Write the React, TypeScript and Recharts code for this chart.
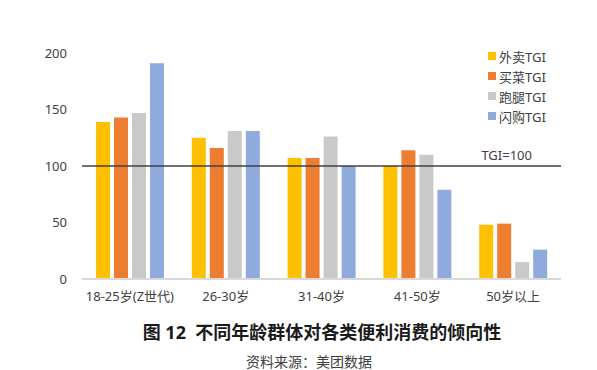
import React from 'react';
import { BarChart, Bar, XAxis, YAxis, ReferenceLine } from 'recharts';

const categories = ['18-25岁(Z世代)', '26-30岁', '31-40岁', '41-50岁', '50岁以上'];
const waimai = [139, 125, 107, 100, 48];
const maicai = [143, 116, 107, 114, 49];
const paotui = [147, 131, 126, 110, 15];
const shangou = [191, 131, 100, 79, 26];
const seriesNames = ['外卖TGI', '买菜TGI', '跑腿TGI', '闪购TGI'];
const yTicks = [0, 50, 100, 150, 200];
const colors = ['#FFC000', '#ED7D31', '#C9C9C9', '#8FAADC'];

const data = categories.map((c, i) => ({
  name: c,
  s0: waimai[i],
  s1: maicai[i],
  s2: paotui[i],
  s3: shangou[i],
}));

const FONT = "'Noto Sans', 'Noto Sans CJK SC', sans-serif";

const refLabel = (props: any) => {
  const vb = props.viewBox;
  return (
    <text x={vb.x + vb.width - 29} y={vb.y - 6} textAnchor="end" fontSize={13} fill="#404040" fontFamily={FONT}>
      TGI=100
    </text>
  );
};

export default function App() {
  return (
    <div style={{ position: 'absolute', left: 0, top: 0, width: 597, height: 370, background: '#fff' }}>
      <BarChart
        width={597}
        height={370}
        data={data}
        margin={{ top: 53, right: 36, left: 0, bottom: 61 }}
        barSize={14}
        barGap={4}
      >
        <XAxis
          dataKey="name"
          height={30}
          axisLine={{ stroke: '#D9D9D9', strokeWidth: 2 }}
          tickLine={false}
          tickMargin={7}
          interval={0}
          tick={{ fontSize: 13, fill: '#404040', fontFamily: FONT }}
        />
        <YAxis
          width={82}
          domain={[0, 200]}
          ticks={yTicks}
          axisLine={false}
          tickLine={false}
          tickMargin={9}
          tick={{ fontSize: 13, fill: '#404040', fontFamily: FONT }}
        />
        {[0, 1, 2, 3].map((i) => (
          <Bar key={i} dataKey={`s${i}`} name={seriesNames[i]} fill={colors[i]} isAnimationActive={false} />
        ))}
        <ReferenceLine y={100} stroke="#404040" strokeWidth={1.5} label={refLabel} />
      </BarChart>
      <div style={{ position: 'absolute', left: 488, top: 46, fontFamily: FONT }}>
        {seriesNames.map((n, i) => (
          <div key={n} style={{ display: 'flex', alignItems: 'center', height: 20 }}>
            <span style={{ display: 'inline-block', width: 8, height: 8, background: colors[i], marginRight: 3 }} />
            <span style={{ fontSize: 13, color: '#404040' }}>{n}</span>
          </div>
        ))}
      </div>
      <div
        style={{
          position: 'absolute',
          left: 0,
          width: 644,
          top: 318,
          textAlign: 'center',
          fontFamily: FONT,
          fontWeight: 'bold',
          fontSize: 18,
          color: '#1a1a1a',
          whiteSpace: 'nowrap',
        }}
      >
        图 12&nbsp;&nbsp;不同年龄群体对各类便利消费的倾向性
      </div>
      <div
        style={{
          position: 'absolute',
          left: 0,
          width: 618,
          top: 351,
          textAlign: 'center',
          fontFamily: FONT,
          fontSize: 14,
          color: '#404040',
          whiteSpace: 'nowrap',
        }}
      >
        资料来源：美团数据
      </div>
    </div>
  );
}
